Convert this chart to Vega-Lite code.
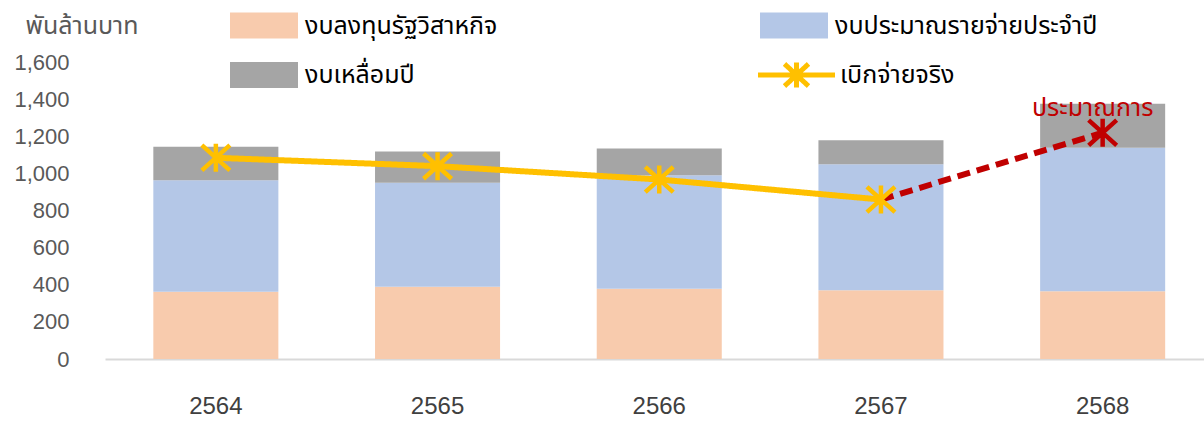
{
  "$schema": "https://vega.github.io/schema/vega-lite/v6.json",
  "width": 1099,
  "height": 297,
  "autosize": {"type": "none"},
  "padding": {"left": 105, "top": 62, "right": 0, "bottom": 63},
  "background": "white",
  "config": {
    "view": {"stroke": null},
    "font": "Tahoma, 'Noto Sans Thai', 'Noto Sans', 'DejaVu Sans', sans-serif",
    "axisY": {"labelOverlap": false}
  },
  "datasets": {
    "bars": [
      {"year": "2564", "type": "งบลงทุนรัฐวิสาหกิจ", "value": 362},
      {"year": "2564", "type": "งบประมาณรายจ่ายประจำปี", "value": 601},
      {"year": "2564", "type": "งบเหลื่อมปี", "value": 180},
      {"year": "2565", "type": "งบลงทุนรัฐวิสาหกิจ", "value": 389},
      {"year": "2565", "type": "งบประมาณรายจ่ายประจำปี", "value": 560},
      {"year": "2565", "type": "งบเหลื่อมปี", "value": 169},
      {"year": "2566", "type": "งบลงทุนรัฐวิสาหกิจ", "value": 378},
      {"year": "2566", "type": "งบประมาณรายจ่ายประจำปี", "value": 612},
      {"year": "2566", "type": "งบเหลื่อมปี", "value": 144},
      {"year": "2567", "type": "งบลงทุนรัฐวิสาหกิจ", "value": 371},
      {"year": "2567", "type": "งบประมาณรายจ่ายประจำปี", "value": 678},
      {"year": "2567", "type": "งบเหลื่อมปี", "value": 130},
      {"year": "2568", "type": "งบลงทุนรัฐวิสาหกิจ", "value": 365},
      {"year": "2568", "type": "งบประมาณรายจ่ายประจำปี", "value": 773},
      {"year": "2568", "type": "งบเหลื่อมปี", "value": 237}
    ],
    "line": [
      {"year": "2564", "value": 1084, "series": "เบิกจ่ายจริง"},
      {"year": "2565", "value": 1039, "series": "เบิกจ่ายจริง"},
      {"year": "2566", "value": 967, "series": "เบิกจ่ายจริง"},
      {"year": "2567", "value": 859, "series": "เบิกจ่ายจริง"},
      {"year": "2567", "value": 859, "series": "ประมาณการ"},
      {"year": "2568", "value": 1219, "series": "ประมาณการ"}
    ],
    "points": [
      {"year": "2564", "value": 1084, "series": "เบิกจ่ายจริง"},
      {"year": "2565", "value": 1039, "series": "เบิกจ่ายจริง"},
      {"year": "2566", "value": 967, "series": "เบิกจ่ายจริง"},
      {"year": "2567", "value": 859, "series": "เบิกจ่ายจริง"},
      {"year": "2568", "value": 1219, "series": "ประมาณการ"}
    ],
    "note": [
      {"year": "2568", "value": 1219, "label": "ประมาณการ"}
    ]
  },
  "encoding": {
    "x": {
      "field": "year",
      "type": "nominal",
      "scale": {"range": [0, 1108.5], "paddingInner": 0.436, "paddingOuter": 0.218},
      "axis": {
        "title": null,
        "labelAngle": 0,
        "ticks": false,
        "domainColor": "#D9D9D9",
        "domainWidth": 2,
        "labelFontSize": 24,
        "labelColor": "#404040",
        "labelPadding": 35,
        "labelFont": "Tahoma, 'Liberation Sans', sans-serif"
      }
    },
    "y": {
      "field": "value",
      "type": "quantitative",
      "scale": {"domain": [0, 1600]},
      "axis": {
        "values": [0, 200, 400, 600, 800, 1000, 1200, 1400, 1600],
        "format": ",d",
        "labelOverlap": false,
        "grid": false,
        "domain": false,
        "ticks": false,
        "labelFontSize": 22,
        "labelColor": "#595959",
        "labelPadding": 36,
        "labelFont": "Liberation Sans",
        "title": "พันล้านบาท",
        "titleAngle": 0,
        "titleAlign": "left",
        "titleBaseline": "alphabetic",
        "titleX": -80,
        "titleY": -29,
        "titleFontSize": 25,
        "titleFontWeight": "normal",
        "titleColor": "#595959"
      }
    }
  },
  "layer": [
    {
      "data": {"name": "bars"},
      "transform": [
        {"calculate": "indexof(['งบลงทุนรัฐวิสาหกิจ', 'งบประมาณรายจ่ายประจำปี', 'งบเหลื่อมปี'], datum.type)", "as": "stackOrder"}
      ],
      "mark": {"type": "bar"},
      "encoding": {
        "fill": {
          "field": "type",
          "type": "nominal",
          "scale": {
            "domain": ["งบลงทุนรัฐวิสาหกิจ", "งบประมาณรายจ่ายประจำปี", "งบเหลื่อมปี"],
            "range": ["#F8CBAD", "#B4C7E7", "#A5A5A5"]
          },
          "legend": {
            "orient": "none",
            "direction": "horizontal",
            "legendX": 146,
            "legendY": -49.5,
            "columns": 2,
            "title": null,
            "padding": 0,
            "symbolType": "M-2.615,-1H2.615V1H-2.615Z",
            "symbolSize": 676,
            "symbolStrokeWidth": 0,
            "labelOffset": 28,
            "columnPadding": 262,
            "rowPadding": 23.5,
            "labelFontSize": 25,
            "labelColor": "#000000",
            "labelLimit": 0
          }
        },
        "order": {"field": "stackOrder", "type": "quantitative", "sort": "ascending"}
      }
    },
    {
      "data": {"name": "line"},
      "mark": {"type": "line", "strokeWidth": 6},
      "encoding": {
        "stroke": {
          "field": "series",
          "type": "nominal",
          "scale": {"domain": ["เบิกจ่ายจริง", "ประมาณการ"], "range": ["#FFC000", "#C00000"]},
          "legend": {
            "orient": "none",
            "legendX": 676,
            "legendY": -2.5,
            "values": ["เบิกจ่ายจริง"],
            "title": null,
            "padding": 0,
            "symbolType": "M-2.96,0H2.96M-0.92,-0.85L0.92,0.85M-0.92,0.85L0.92,-0.85M0,-0.96V0.96",
            "symbolSize": 676,
            "symbolStrokeWidth": 5,
            "symbolFillColor": "transparent",
            "labelOffset": 28,
            "labelFontSize": 25,
            "labelColor": "#000000",
            "labelLimit": 0
          }
        },
        "strokeDash": {
          "field": "series",
          "type": "nominal",
          "scale": {"domain": ["เบิกจ่ายจริง", "ประมาณการ"], "range": [[1, 0], [13, 7]]},
          "legend": null
        }
      }
    },
    {
      "data": {"name": "points"},
      "mark": {
        "type": "point",
        "shape": "M-1,-0.9L1,0.9M-1,0.9L1,-0.9M0,-1V1",
        "size": 784,
        "filled": false,
        "strokeWidth": 4.5,
        "opacity": 1
      },
      "encoding": {
        "stroke": {"field": "series", "type": "nominal"}
      }
    },
    {
      "data": {"name": "note"},
      "mark": {
        "type": "text",
        "dx": -10,
        "dy": -17,
        "baseline": "alphabetic",
        "align": "center",
        "fontSize": 25,
        "color": "#C00000"
      },
      "encoding": {
        "text": {"field": "label"}
      }
    }
  ]
}
